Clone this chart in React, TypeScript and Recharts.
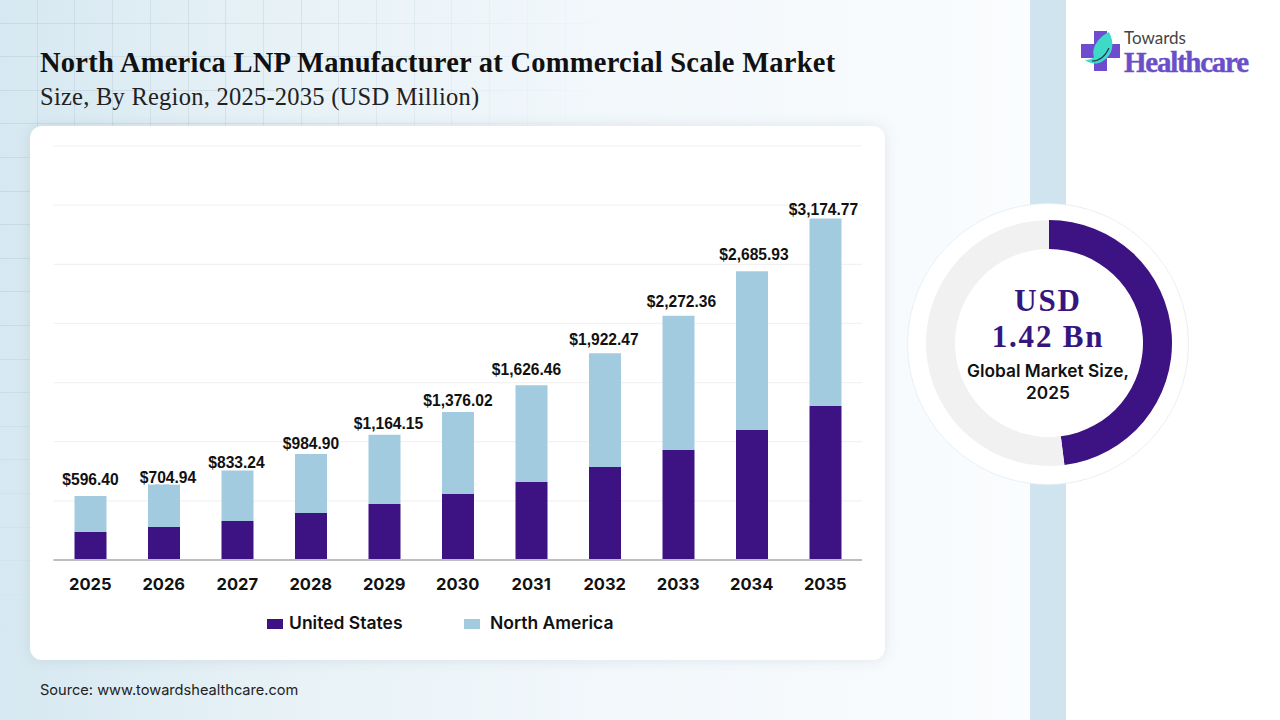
import React from "react";
import { BarChart, Bar, XAxis, YAxis, CartesianGrid, Legend, LabelList, PieChart, Pie, Cell } from "recharts";

const years = ["2025", "2026", "2027", "2028", "2029", "2030", "2031", "2032", "2033", "2034", "2035"];
const totals = [596.4, 704.94, 833.24, 984.9, 1164.15, 1376.02, 1626.46, 1922.47, 2272.36, 2685.93, 3174.77];
const unitedStates = [260, 307, 363, 437, 521, 614, 726, 865, 1023, 1209, 1433];
const northAmerica = [336, 398, 470, 548, 643, 762, 900, 1057, 1249, 1477, 1742];
const gridTicks = [0, 550, 1100, 1650, 2200, 2750, 3300, 3850];
const donutValues = [48, 52];

// the labels in the source were placed by hand, so each one gets its own nudge
const labelDx = [0, 4, -1, 0, 4, 0, -5, -1, 3, 2, -2];
const labelGap = [16, 7, 8, 11, 11, 12, 16, 14, 14, 17, 9];

const PURPLE = "#3d1283";
const BLUE = "#a2cbe0";
const SANS = "'Liberation Sans', Arial, sans-serif";
const SERIF = "'Liberation Serif', serif";
const INTER = "Inter, sans-serif";

const tableData = years.map((year, i) => ({
  year,
  us: unitedStates[i],
  na: northAmerica[i],
}));

const money = (v: number) =>
  "$" + v.toLocaleString("en-US", { minimumFractionDigits: 2, maximumFractionDigits: 2 });

const TotalLabel = (props: any) => {
  const { x, y, width, index } = props;
  return (
    <text
      x={x + width / 2 + labelDx[index]}
      y={y - labelGap[index]}
      textAnchor="middle"
      dominantBaseline="central"
      fontFamily={SANS}
      fontWeight={700}
      fontSize={15.6}
      fill="#111"
      stroke="#fff"
      strokeWidth={3}
      paintOrder="stroke"
    >
      {money(totals[index])}
    </text>
  );
};

const ChartLegend = ({ payload }: any) => (
  <div style={{ position: "relative", height: 24 }}>
    {(payload || []).map((item: any, i: number) => (
      <div
        key={item.value}
        style={{
          position: "absolute",
          left: i === 0 ? 0 : 197,
          top: 0,
          display: "flex",
          alignItems: "center",
          whiteSpace: "nowrap",
        }}
      >
        <span style={{ width: 16, height: 10, background: item.color, marginRight: i === 0 ? 6 : 10, marginTop: 2 }} />
        <span style={{ fontFamily: INTER, fontWeight: 600, fontSize: 17.5, color: "#111" }}>{item.value}</span>
      </div>
    ))}
  </div>
);

const Logo = () => (
  <svg width="190" height="70" style={{ position: "absolute", left: 1075, top: 15 }}>
    <path d="M19 16h13v13h13v14H32v13H19V43H6V29h13z" fill="#6f4bd0" />
    <path d="M34 17C40 28 38 40 28 46C22 50 15 49 10 45C14 45 17 44 19 42C16 32 24 22 34 17z" fill="#3fd9c8" />
    <path d="M17 46c7 0 13-4 17-13" fill="none" stroke="#243a5a" strokeWidth={1.2} />
    <text x="49" y="29" fontFamily="Lato, sans-serif" fontSize={17} fill="#444">Towards</text>
    <text x="49" y="57" fontFamily={SERIF} fontWeight={700} fontSize={29} fill="#6a4fc9" stroke="#6a4fc9" strokeWidth={0.4} textLength={125}>Healthcare</text>
  </svg>
);

export default function App() {
  return (
    <div
      style={{
        position: "fixed",
        left: 0,
        top: 0,
        width: 1280,
        height: 720,
        overflow: "hidden",
        background: "linear-gradient(90deg, #d6e8f1 0%, #e6f1f6 20%, #f1f7fb 45%, #fafcfe 80%, #ffffff 100%)",
      }}
    >
      {/* faint background grid, fades out to the right and down */}
      <div
        style={{
          position: "absolute",
          left: 0,
          top: -10,
          width: 1000,
          height: 730,
          backgroundImage:
            "repeating-linear-gradient(90deg, transparent 0 36.7px, rgba(150,175,190,0.22) 36.7px 37.7px), repeating-linear-gradient(180deg, transparent 0 32.6px, rgba(150,175,190,0.22) 32.6px 33.6px)",
          WebkitMaskImage: "radial-gradient(ellipse 620px 680px at 0 0, #000 45%, transparent 100%)",
        }}
      />
      <div style={{ position: "absolute", left: 1030, top: 0, width: 36, height: 720, background: "#cfe4ee" }} />
      <div style={{ position: "absolute", left: 1066, top: 0, width: 214, height: 720, background: "#fff" }} />

      <div style={{ position: "absolute", left: 40, top: 47, fontFamily: SERIF, fontWeight: 700, fontSize: 28.5, letterSpacing: 0.25, color: "#111", whiteSpace: "nowrap" }}>
        North America LNP Manufacturer at Commercial Scale Market
      </div>
      <div style={{ position: "absolute", left: 40, top: 83, fontFamily: SERIF, fontSize: 24.5, letterSpacing: 0.25, color: "#222", whiteSpace: "nowrap" }}>
        Size, By Region, 2025-2035 (USD Million)
      </div>

      <div
        style={{
          position: "absolute",
          left: 30,
          top: 126,
          width: 855,
          height: 534,
          borderRadius: 12,
          background: "#fff",
          boxShadow: "0 0 14px rgba(120,140,150,0.18)",
        }}
      />

      <div style={{ position: "absolute", left: 0, top: 0 }}>
        <BarChart
          width={885}
          height={660}
          data={tableData}
          barSize={32}
          margin={{ top: 146, right: 23, bottom: 0, left: 53.5 }}
        >
          <CartesianGrid horizontal vertical={false} stroke="#f2f2f2" strokeWidth={1.2} />
          <YAxis hide domain={[0, 3850]} ticks={gridTicks} />
          <XAxis
            dataKey="year"
            height={76}
            axisLine={{ stroke: "#bdbdbd", strokeWidth: 2 }}
            tickLine={false}
            interval={0}
            tick={{ fontFamily: INTER, fontWeight: 700, fontSize: 16.5, fill: "#111" }}
            dy={10}
          />
          <Legend
            content={<ChartLegend />}
            itemSorter={null as any}
            wrapperStyle={{ position: "absolute", left: 267, top: 612, width: 400, height: 24, bottom: "auto" }}
          />
          <Bar dataKey="us" name="United States" stackId="a" fill={PURPLE} isAnimationActive={false} />
          <Bar dataKey="na" name="North America" stackId="a" fill={BLUE} isAnimationActive={false}>
            <LabelList dataKey="na" content={<TotalLabel />} />
          </Bar>
        </BarChart>
      </div>

      <div style={{ position: "absolute", left: 40, top: 681, fontFamily: INTER, fontSize: 14.6, color: "#222" }}>
        Source: www.towardshealthcare.com
      </div>

      <div
        style={{
          position: "absolute",
          left: 907,
          top: 203,
          width: 282,
          height: 282,
          boxSizing: "border-box",
          borderRadius: "50%",
          background: "#fff",
          border: "1px solid #e9f0f4",
        }}
      />
      <div style={{ position: "absolute", left: 909, top: 203 }}>
        <PieChart width={280} height={280} margin={{ top: 0, right: 0, bottom: 0, left: 0 }}>
          <Pie
            data={donutValues.map((value) => ({ value }))}
            dataKey="value"
            cx={140}
            cy={140}
            innerRadius={94}
            outerRadius={123}
            startAngle={90}
            endAngle={-270}
            stroke="none"
            isAnimationActive={false}
          >
            <Cell fill={PURPLE} />
            <Cell fill="#f1f1f2" />
          </Pie>
        </PieChart>
      </div>
      <div style={{ position: "absolute", left: 948, top: 283, width: 200, textAlign: "center", fontFamily: SERIF, fontWeight: 700, fontSize: 31, letterSpacing: 1.8, lineHeight: "36px", color: "#35167f" }}>
        USD
        <br />
        1.42 Bn
      </div>
      <div style={{ position: "absolute", left: 938, top: 360, width: 220, textAlign: "center", fontFamily: INTER, fontWeight: 600, fontSize: 17.3, lineHeight: "22px", color: "#111" }}>
        Global Market Size,
        <br />
        2025
      </div>

      <Logo />
    </div>
  );
}
